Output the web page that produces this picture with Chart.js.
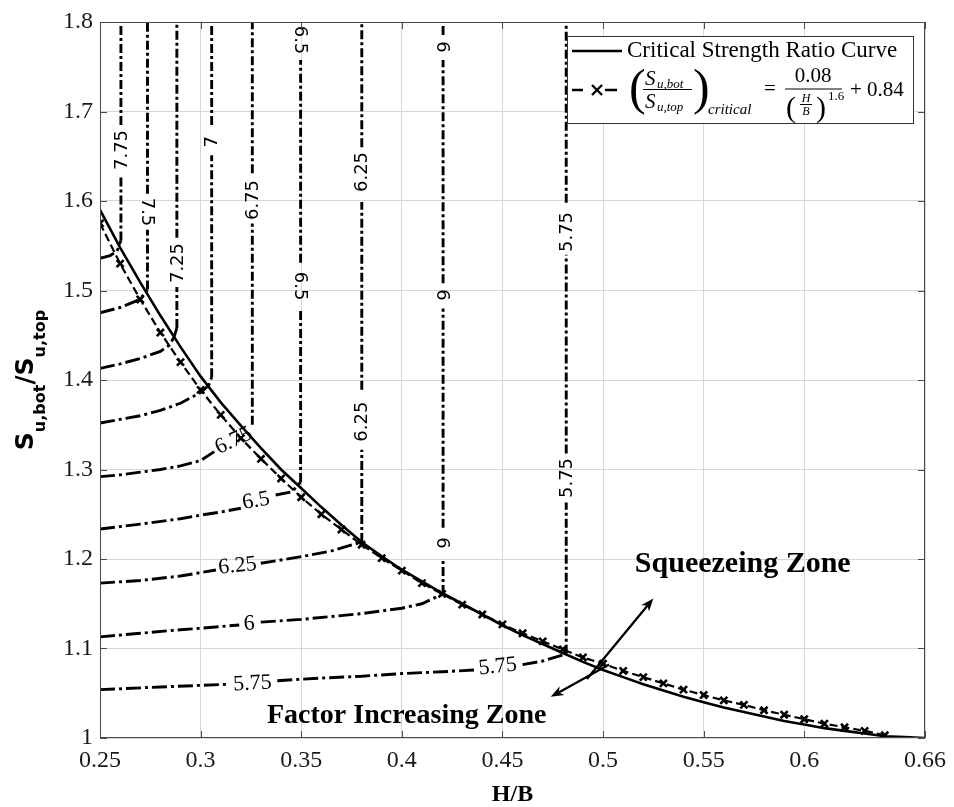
<!DOCTYPE html>
<html><head><meta charset="utf-8">
<script src="https://cdn.jsdelivr.net/npm/chart.js@4.4.1/dist/chart.umd.min.js"></script>
<style>html,body{margin:0;padding:0;background:#fff;}canvas{display:block;}</style>
</head><body>
<canvas id="c" width="954" height="807"></canvas>
<script>
// ---------- data ----------
const xTicks = [0.25, 0.3, 0.35, 0.4, 0.45, 0.5, 0.55, 0.6, 0.66];
const yTicks = [1, 1.1, 1.2, 1.3, 1.4, 1.5, 1.6, 1.7, 1.8];

// Critical strength ratio curve (solid)
const curveX = [0.25,0.26,0.27,0.28,0.29,0.30,0.31,0.32,0.33,0.34,0.35,0.36,0.37,0.38,0.39,0.40,0.41,0.42,0.43,0.44,0.45,0.46,0.47,0.48,0.49,0.50,0.51,0.52,0.53,0.54,0.55,0.56,0.57,0.58,0.59,0.60,0.61,0.62,0.63,0.64,0.65,0.66];
const curveY = [1.590,1.548,1.509,1.472,1.437,1.404,1.375,1.349,1.324,1.300,1.279,1.258,1.238,1.219,1.203,1.188,1.175,1.162,1.150,1.138,1.126,1.115,1.105,1.095,1.085,1.076,1.068,1.060,1.053,1.046,1.040,1.034,1.029,1.024,1.019,1.015,1.011,1.008,1.005,1.002,1.001,1.000];

// Fitted expression (dashed with x markers)
const fitX = [0.25,0.26,0.27,0.28,0.29,0.30,0.31,0.32,0.33,0.34,0.35,0.36,0.37,0.38,0.39,0.40,0.41,0.42,0.43,0.44,0.45,0.46,0.47,0.48,0.49,0.50,0.51,0.52,0.53,0.54,0.55,0.56,0.57,0.58,0.59,0.60,0.61,0.62,0.63,0.64];
const fitY = [1.575,1.530,1.490,1.453,1.420,1.389,1.361,1.335,1.312,1.290,1.269,1.250,1.233,1.216,1.201,1.187,1.173,1.161,1.149,1.138,1.127,1.117,1.108,1.099,1.090,1.083,1.075,1.068,1.061,1.054,1.048,1.042,1.037,1.031,1.026,1.021,1.016,1.012,1.008,1.003];

// Contour lines [H/B, ratio]; null = break where a label sits
const contour775 = [[0.25,1.536],[0.255,1.539],[0.2585,1.544],[0.2604,1.556],[0.2604,1.629],null,[0.2604,1.685],[0.2604,1.8]];
const contour750 = [[0.25,1.475],[0.26,1.481],[0.2698,1.490],[0.2736,1.501],[0.2736,1.568],null,[0.2736,1.608],[0.2736,1.8]];
const contour725 = [[0.25,1.413],[0.26,1.418],[0.27,1.424],[0.28,1.432],[0.2846,1.439],[0.2868,1.448],[0.2882,1.458],[0.2882,1.504],null,[0.2882,1.559],[0.2882,1.8]];
const contour700 = [[0.25,1.352],[0.26,1.356],[0.27,1.360],[0.28,1.366],[0.29,1.374],[0.30,1.386],[0.304,1.394],[0.3055,1.403],[0.3055,1.651],null,[0.3055,1.685],[0.3055,1.8]];
const contour675 = [[0.25,1.292],[0.26,1.294],[0.27,1.297],[0.28,1.300],[0.29,1.304],[0.30,1.310],[0.3068,1.320],null,[0.3257,1.350],[0.3257,1.575],null,[0.3257,1.631],[0.3257,1.8]];
const contour650 = [[0.25,1.2335],[0.27,1.239],[0.29,1.245],[0.30,1.249],[0.31,1.2525],[0.32,1.2567],null,[0.3373,1.2715],[0.3455,1.2752],[0.3497,1.286],[0.3497,1.480],null,[0.3497,1.531],[0.3497,1.7575]];
const contour625 = [[0.25,1.173],[0.27,1.176],[0.29,1.181],[0.3076,1.1877],null,[0.3299,1.1952],[0.35,1.2026],[0.365,1.209],[0.3801,1.219],[0.3801,1.322],null,[0.3801,1.389],[0.3801,1.599],null,[0.3801,1.660],[0.3801,1.8]];
const contour600 = [[0.25,1.113],[0.27,1.117],[0.29,1.121],[0.30,1.1226],[0.3192,1.1263],null,[0.3299,1.1295],[0.35,1.1325],[0.38,1.139],[0.40,1.145],[0.41,1.150],[0.4205,1.161],[0.4205,1.201],null,[0.4205,1.235],[0.4205,1.480],null,[0.4205,1.508],[0.4205,1.7575],null,[0.4205,1.7855],[0.4205,1.8]];
const contour575 = [[0.25,1.054],[0.28,1.057],[0.3134,1.060],null,[0.3381,1.064],[0.36,1.067],[0.38,1.069],[0.40,1.072],[0.42,1.074],[0.436,1.076],null,[0.46,1.082],[0.47,1.086],[0.4817,1.094],[0.4817,1.263],null,[0.4817,1.318],[0.4817,1.540],null,[0.4817,1.598],[0.4817,1.8]];

// Contour labels: text, H/B, ratio, angle
const labelText  = ['7.75','7.5','7.25','7','6.75','6.5','6.5','6.25','6.25','6','6','6','5.75','5.75','6.75','6.5','6.25','6','5.75','5.75'];
const labelX     = [0.2604,0.2736,0.2882,0.3055,0.3257,0.3497,0.3497,0.3801,0.3801,0.4205,0.4205,0.4205,0.4817,0.4817,0.3162,0.3274,0.3183,0.3241,0.3257,0.4476];
const labelY     = [1.657,1.5877,1.5307,1.6663,1.6011,1.7799,1.505,1.6324,1.3534,1.7721,1.495,1.2179,1.5654,1.2905,1.333,1.2659,1.1933,1.1285,1.0618,1.0808];
const labelAngle = [-90,90,-90,-90,-90,90,90,-90,-90,90,90,90,-90,-90,-25,-10,-6,-3,-3,-6];

// Zone annotations
const zoneText = ['Squeezeing Zone','Factor Increasing Zone'];
const zoneX = [0.5158, 0.333];
const zoneY = [1.1855, 1.0168];
const arrowFrom = [[0.492,1.066],[0.503,1.082]];
const arrowTo   = [[0.525,1.156],[0.474,1.046]];

// ---------- build ----------
function toPts(arr){
  const out=[]; let last=null;
  for(const p of arr){
    if(p===null){ out.push({x:last[0], y:null}); }
    else { out.push({x:p[0], y:p[1]}); last=p; }
  }
  return out;
}
const contours = [contour775,contour750,contour725,contour700,contour675,contour650,contour625,contour600,contour575];
const dashVert = [9,3,3,3];
const dashHorz = [15,4,3,4];
const contourSets = contours.map(c => ({
  data: toPts(c), showLine:true, spanGaps:false, pointRadius:0, borderColor:'#000', borderWidth:2.9,
  tension:0,
  segment:{ borderDash: ctx => (Math.abs(ctx.p0.x - ctx.p1.x) < 0.6 ? dashVert : dashHorz) }
}));

const serif = '"Liberation Serif", "DejaVu Serif", serif';
const sans = '"DejaVu Sans", "Noto Sans", sans-serif';

function arrow(ctx, x0,y0,x1,y1){
  const a = Math.atan2(y1-y0, x1-x0), L=13, W=5;
  ctx.beginPath(); ctx.moveTo(x0,y0); ctx.lineTo(x1 - Math.cos(a)*L*0.7, y1 - Math.sin(a)*L*0.7); ctx.stroke();
  ctx.beginPath();
  ctx.moveTo(x1,y1);
  ctx.lineTo(x1 - Math.cos(a)*L + Math.sin(a)*W, y1 - Math.sin(a)*L - Math.cos(a)*W);
  ctx.lineTo(x1 - Math.cos(a)*L*0.7, y1 - Math.sin(a)*L*0.7);
  ctx.lineTo(x1 - Math.cos(a)*L - Math.sin(a)*W, y1 - Math.sin(a)*L + Math.cos(a)*W);
  ctx.closePath(); ctx.fill();
}

const overlay = {
  id:'overlay',
  beforeDatasetsDraw(chart){
    const {ctx, scales:{x,y}} = chart;
    ctx.save();
    ctx.fillStyle='#000';
    ctx.textAlign='center'; ctx.textBaseline='middle';
    labelText.forEach((t,i)=>{
      const px = x.getPixelForValue(labelX[i]), py = y.getPixelForValue(labelY[i]);
      const vertical = Math.abs(labelAngle[i])===90;
      ctx.save(); ctx.translate(px,py); ctx.rotate(labelAngle[i]*Math.PI/180);
      ctx.font = vertical ? '18px '+sans : '22px '+serif;
      ctx.fillText(t,0,1);
      ctx.restore();
    });
    ctx.restore();
  },
  afterDatasetsDraw(chart){
    const {ctx, chartArea:a, scales:{x,y}} = chart;
    ctx.save();
    // box + inward ticks
    ctx.strokeStyle='#4a4a4a'; ctx.lineWidth=1;
    ctx.strokeRect(a.left+0.5, a.top+0.5, a.right-a.left-1, a.bottom-a.top-1);
    ctx.beginPath();
    xTicks.forEach(v=>{ const p=Math.round(x.getPixelForValue(v))+0.5;
      ctx.moveTo(p,a.bottom); ctx.lineTo(p,a.bottom-7); ctx.moveTo(p,a.top); ctx.lineTo(p,a.top+7); });
    yTicks.forEach(v=>{ const p=Math.round(y.getPixelForValue(v))+0.5;
      ctx.moveTo(a.left,p); ctx.lineTo(a.left+7,p); ctx.moveTo(a.right,p); ctx.lineTo(a.right-7,p); });
    ctx.stroke();

    // arrows
    ctx.strokeStyle='#000'; ctx.fillStyle='#000'; ctx.lineWidth=2.3;
    arrowFrom.forEach((f,i)=>{
      arrow(ctx, x.getPixelForValue(f[0]), y.getPixelForValue(f[1]), x.getPixelForValue(arrowTo[i][0]), y.getPixelForValue(arrowTo[i][1]));
    });
    // zone texts
    ctx.textAlign='left'; ctx.textBaseline='alphabetic';
    ctx.font='bold 30px '+serif;
    ctx.fillText(zoneText[0], x.getPixelForValue(zoneX[0]), y.getPixelForValue(zoneY[0]));
    ctx.font='bold 28px '+serif;
    ctx.fillText(zoneText[1], x.getPixelForValue(zoneX[1]), y.getPixelForValue(zoneY[1]));

    // legend
    const L = a.right - 358, T = a.top + 14, Wd = 346, Ht = 87;
    ctx.fillStyle='#fff'; ctx.fillRect(L,T,Wd,Ht);
    ctx.strokeStyle='#333'; ctx.lineWidth=1; ctx.strokeRect(L+0.5,T+0.5,Wd,Ht);
    ctx.strokeStyle='#000'; ctx.fillStyle='#000';
    ctx.lineWidth=2.6; ctx.beginPath(); ctx.moveTo(L+5,T+15); ctx.lineTo(L+55,T+15); ctx.stroke();
    ctx.font='23px '+serif; ctx.fillText('Critical Strength Ratio Curve', L+60, T+21);
    // row 2 sample
    const ry = T+54;
    ctx.lineWidth=2.4; ctx.beginPath();
    ctx.moveTo(L+5,ry); ctx.lineTo(L+16,ry); ctx.moveTo(L+38,ry); ctx.lineTo(L+50,ry);
    ctx.moveTo(L+25,ry-5); ctx.lineTo(L+35,ry+5); ctx.moveTo(L+25,ry+5); ctx.lineTo(L+35,ry-5);
    ctx.stroke();
    // formula
    ctx.font='50px '+serif; ctx.fillText('(', L+62, T+68);
    ctx.font='italic 21px '+serif; ctx.fillText('S', L+78, T+49);
    ctx.font='italic 13px '+serif; ctx.fillText('u,bot', L+90, T+52);
    ctx.lineWidth=1; ctx.beginPath(); ctx.moveTo(L+76,T+53.5); ctx.lineTo(L+125,T+53.5); ctx.stroke();
    ctx.font='italic 21px '+serif; ctx.fillText('S', L+78, T+72);
    ctx.font='italic 13px '+serif; ctx.fillText('u,top', L+90, T+75);
    ctx.font='50px '+serif; ctx.fillText(')', L+126, T+68);
    ctx.font='italic 15px '+serif; ctx.fillText('critical', L+141, T+78);
    ctx.font='21px '+serif; ctx.fillText('=', L+197, T+59);
    ctx.textAlign='center';
    ctx.fillText('0.08', L+246, T+46);
    ctx.beginPath(); ctx.moveTo(L+218,T+53); ctx.lineTo(L+275,T+53); ctx.stroke();
    ctx.font='30px '+serif; ctx.fillText('(', L+224, T+81); ctx.fillText(')', L+254, T+81);
    ctx.font='italic 12px '+serif; ctx.fillText('H', L+239, T+66); ctx.fillText('B', L+239, T+79);
    ctx.beginPath(); ctx.moveTo(L+233,T+68.5); ctx.lineTo(L+245,T+68.5); ctx.stroke();
    ctx.textAlign='left';
    ctx.font='13px '+serif; ctx.fillText('1.6', L+261, T+64);
    ctx.font='21px '+serif; ctx.fillText('+ 0.84', L+283, T+60);

    // axis titles
    ctx.fillStyle='#000';
    ctx.font='bold 24px '+serif; ctx.textAlign='center'; ctx.textBaseline='middle';
    ctx.fillText('H/B', (a.left+a.right)/2, 795);
    // y title with subscripts
    const big='bold 25px '+sans, small='bold 16px '+sans;
    const parts=[['S',big,0],['u,bot',small,12],['/',big,0],['S',big,0],['u,top',small,12]];
    let total=0;
    parts.forEach(p=>{ ctx.font=p[1]; total+=ctx.measureText(p[0]).width; });
    ctx.save();
    ctx.translate(33, (a.top+a.bottom)/2 + total/2);
    ctx.rotate(-Math.PI/2);
    ctx.textAlign='left'; ctx.textBaseline='alphabetic';
    let cx=0;
    parts.forEach(p=>{ ctx.font=p[1]; ctx.fillText(p[0], cx, p[2]); cx+=ctx.measureText(p[0]).width; });
    ctx.restore();
    ctx.restore();
  }
};

new Chart(document.getElementById('c'), {
  type:'scatter',
  data:{ datasets:[
    { data: curveX.map((v,i)=>({x:v,y:curveY[i]})), showLine:true, pointRadius:0, borderColor:'#000', borderWidth:2.6, tension:0 },
    { data: fitX.map((v,i)=>({x:v,y:fitY[i]})), showLine:true, borderDash:[8,4], borderColor:'#000', borderWidth:2.2,
      pointStyle:'crossRot', pointRadius:5, pointBorderWidth:2.6, pointBorderColor:'#000', pointBackgroundColor:'#000' },
    ...contourSets
  ]},
  options:{
    responsive:false, animation:false, devicePixelRatio:1, events:[],
    layout:{ padding:{ left:0, right:24, top:22, bottom:0 } },
    plugins:{ legend:{display:false}, tooltip:{enabled:false} },
    scales:{
      x:{ type:'linear', min:0.25, max:0.66,
        afterBuildTicks: s => { s.ticks = xTicks.map(v=>({value:v})); },
        afterFit: s => { s.height = 69; },
        ticks:{ autoSkip:false, maxRotation:0, padding:8, color:'#1a1a1a', font:{family:serif, size:24}, callback:v=>String(v) },
        grid:{ color:'#d6d6d6', lineWidth:1, drawTicks:false }, border:{display:false} },
      y:{ type:'linear', min:1, max:1.8,
        afterBuildTicks: s => { s.ticks = yTicks.map(v=>({value:v})); },
        afterFit: s => { s.width = 100; },
        ticks:{ autoSkip:false, padding:7, color:'#1a1a1a', font:{family:serif, size:24}, callback:v=>String(v) },
        grid:{ color:'#d6d6d6', lineWidth:1, drawTicks:false }, border:{display:false} }
    }
  },
  plugins:[overlay]
});
</script>
</body></html>
